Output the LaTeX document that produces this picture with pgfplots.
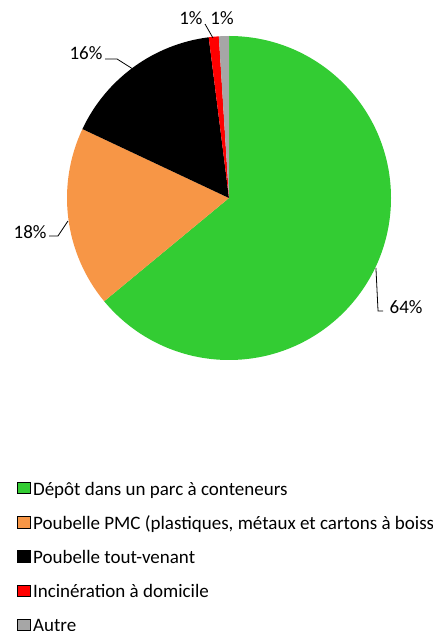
\documentclass[border=0pt]{standalone}
\usepackage{pgfplots}
\pgfplotsset{compat=1.18}
\usepackage{pgfplotstable}
\usepackage{fontspec}
\setmainfont{Carlito}
\definecolor{pgreen}{RGB}{51,204,51}
\definecolor{porange}{RGB}{247,150,70}
\definecolor{pred}{RGB}{255,0,0}
\definecolor{pgrey}{RGB}{166,166,166}
\definecolor{pblack}{RGB}{0,0,0}

\pgfplotstableread{
value colour
64 pgreen
18 porange
16 pblack
1 pred
1 pgrey
}\piedata

\newcommand\pfont{\fontsize{19bp}{22bp}\selectfont}

\begin{document}
\begin{tikzpicture}
\clip (0,0) rectangle (433bp,631bp);
\begin{axis}[
  at={(0,0)}, anchor=south west,
  scale only axis, x=162bp, y=162bp,
  xmin=-1.41358, xmax=1.25926, ymin=-2.67284, ymax=1.22222,
  hide axis, clip=false,
  legend cell align=left,
  legend style={at={(0.03926,0.2365)}, anchor=north west, draw=none, fill=none,
    inner sep=0pt, font=\pfont, row sep=17bp, column sep=0bp,
    nodes={inner sep=0pt, text height=13bp, text depth=4bp}},
  legend image code/.code={\fill[#1] (0bp,-3bp) rectangle (12.5bp,8.5bp);},
]
\pgfplotsextra{%
  \gdef\pstart{90}%
  \pgfplotstableforeachcolumnelement{value}\of\piedata\as\pval{%
    \pgfplotstablegetelem{\pgfplotstablerow}{colour}\of\piedata
    \let\pcol\pgfplotsretval
    \pgfmathsetmacro\pstop{\pstart-3.6*\pval}%
    \fill[fill=\pcol] (axis cs:0,0) -- (axis cs:{cos(\pstart)},{sin(\pstart)})
      arc[start angle=\pstart, end angle=\pstop, radius=162bp] -- cycle;
    \xdef\pstart{\pstop}%
  }%
  \draw[black, line width=0.8pt] (axis cs:0.907,-0.432) -- (axis cs:0.920,-0.698) -- (axis cs:0.951,-0.698);
  \draw[black, line width=0.8pt] (axis cs:-1.111,-0.235) -- (axis cs:-1.056,-0.235) -- (axis cs:-0.994,-0.142);
  \draw[black, line width=0.8pt] (axis cs:-0.765,0.858) -- (axis cs:-0.691,0.858) -- (axis cs:-0.593,0.796);
  \draw[black, line width=0.8pt] (axis cs:-0.148,1.074) -- (axis cs:-0.099,0.988);
  \node[font=\pfont, inner sep=0pt] at (axis cs:1.093,-0.673) {64\%};
  \node[font=\pfont, inner sep=0pt] at (axis cs:-1.228,-0.210) {18\%};
  \node[font=\pfont, inner sep=0pt] at (axis cs:-0.883,0.895) {16\%};
  \node[font=\pfont, inner sep=0pt] at (axis cs:-0.235,1.111) {1\%};
  \node[font=\pfont, inner sep=0pt] at (axis cs:-0.043,1.111) {1\%};
}
\addlegendimage{fill=pgreen}
\addlegendentry{\hspace*{3bp}Dépôt dans un parc à conteneurs}
\addlegendimage{fill=porange}
\addlegendentry{\hspace*{3bp}Poubelle PMC (plastiques, métaux et cartons à boissons)}
\addlegendimage{fill=pblack}
\addlegendentry{\hspace*{3bp}Poubelle tout-venant}
\addlegendimage{fill=pred}
\addlegendentry{\hspace*{3bp}Incinération à domicile}
\addlegendimage{fill=pgrey}
\addlegendentry{\hspace*{3bp}Autre}
\end{axis}
\end{tikzpicture}
\end{document}
